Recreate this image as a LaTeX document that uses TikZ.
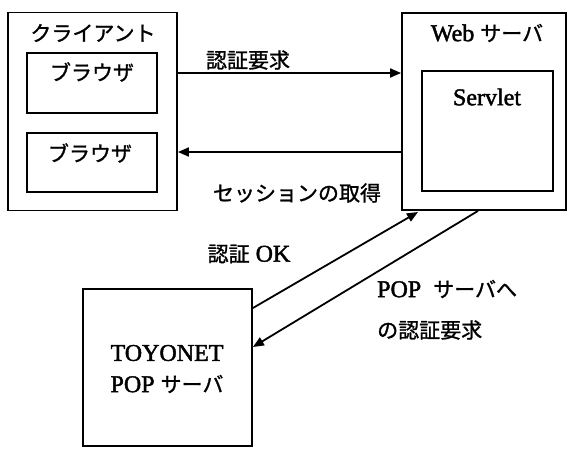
\documentclass[tikz,border=0pt]{standalone}
\usepackage{fontspec}
\setmainfont{Liberation Serif}[FakeBold=1.8]
\newfontfamily\jpfont{Noto Sans CJK JP}[FakeBold=1.2]
\newcommand\jp{\fontsize{21}{23}\selectfont\jpfont}
\usetikzlibrary{arrows.meta}
\tikzset{
  box/.style={draw, line width=1.8pt, inner sep=0pt},
  lbl/.style={inner sep=0pt, font=\fontsize{24}{26}\selectfont},
  arr/.style={line width=1.8pt, -{Triangle[length=11pt,width=9pt]}}
}
\begin{document}
\begin{tikzpicture}[x=1pt,y=-1pt]
\useasboundingbox (0,0) rectangle (569,448);
\node[box, minimum width=169pt, minimum height=198pt] (client) at (92.5,111.5) {};
\node[box, minimum width=130pt, minimum height=60pt] (b1) at (92,83) {};
\node[box, minimum width=130pt, minimum height=59pt] (b2) at (92,162.5) {};
\node[box, minimum width=164pt, minimum height=197pt] (web) at (484,111.5) {};
\node[box, minimum width=131pt, minimum height=120pt] (servlet) at (487.5,131) {};
\node[box, minimum width=169pt, minimum height=157pt] (toy) at (167.5,367.5) {};

\node[lbl] (tclient) at (93,33) {\jp クライアント};
\node[lbl] (tb1) at (92,72) {\jp ブラウザ};
\node[lbl] (tb2) at (90,153) {\jp ブラウザ};
\node[lbl] (tweb) at (487,33) {Web {\jp サーバ}};
\node[lbl] (tservlet) at (487,97) {Servlet};
\node[lbl] (ttoy1) at (167,353) {TOYONET};
\node[lbl] (ttoy2) at (167,384) {POP {\jp サーバ}};

\node[lbl] (l1) at (248,60) {\jp 認証要求};
\node[lbl] (l2) at (297,193) {\jp セッションの取得};
\node[lbl] (l3) at (249,254) {{\jp 認証} OK};
\node[lbl, anchor=west] (l4) at (377,289) {POP\hspace{6pt} {\jp サーバへ}};
\node[lbl, anchor=west] (l5) at (377,330) {\jp の認証要求};

\coordinate (c1) at (client.east |- 0,73);
\coordinate (w1) at (web.west |- 0,73);
\coordinate (c2) at (client.east |- 0,152);
\coordinate (w2) at (web.west |- 0,152);
\coordinate (t1) at (toy.east |- 0,308);
\coordinate (w3) at (418,212);
\coordinate (w4) at (web.south -| 478,0);
\coordinate (t2) at (toy.east |- 0,347);
\draw[arr] (c1) -- (w1);
\draw[arr] (w2) -- (c2);
\draw[arr] (t1) -- (w3);
\draw[arr] (w4) -- (t2);
\end{tikzpicture}
\end{document}
